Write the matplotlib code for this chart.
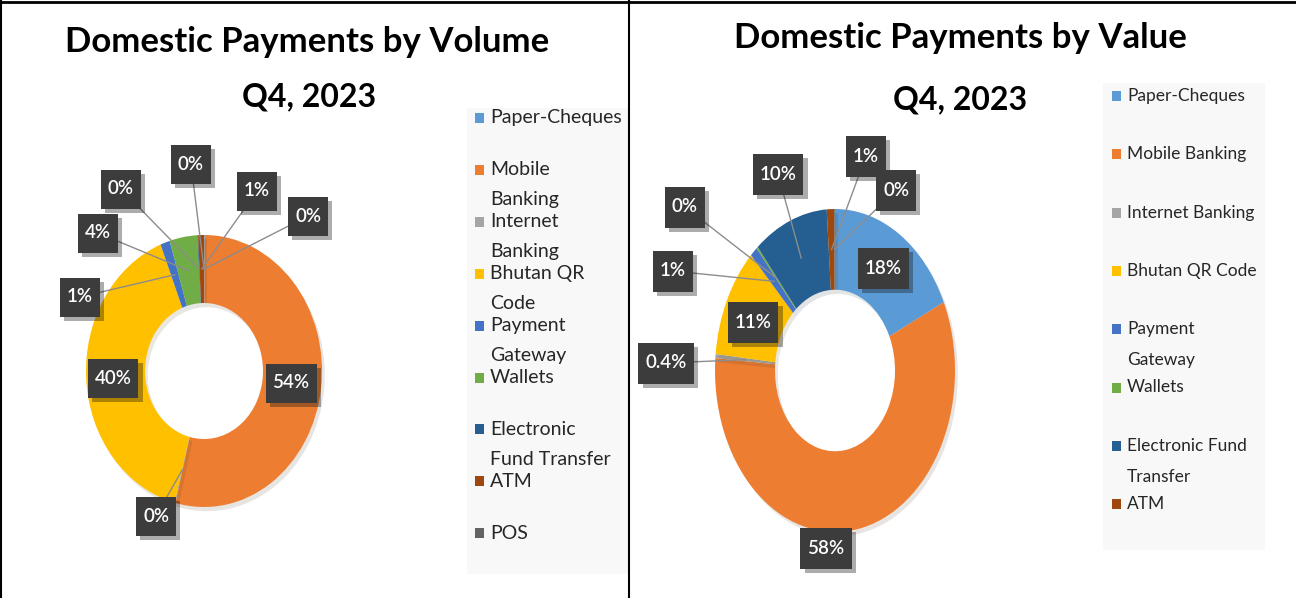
import matplotlib.pyplot as plt
import matplotlib.patheffects as pe
import numpy as np

plt.rcParams['font.family'] = ['Lato', 'DejaVu Sans']

## DATA

colors = ['#5B9BD5', '#ED7D31', '#A5A5A5', '#FFC000', '#4472C4',
          '#70AD47', '#255E91', '#9E480E', '#636363']

# volume share (%), clockwise from 12 o'clock
volume = [0.1, 53.8, 0.1, 40.0, 1.3, 3.8, 0.1, 0.8, 0.0]
volume_labels = ['0%', '54%', '0%', '40%', '1%', '4%', '0%', '1%', '0%']
volume_legend = ['Paper-Cheques', 'Mobile\nBanking', 'Internet\nBanking',
                 'Bhutan QR\nCode', 'Payment\nGateway', 'Wallets',
                 'Electronic\nFund Transfer', 'ATM', 'POS']

# value share (%)
value = [18, 58, 0.4, 11, 1, 0.2, 10, 1, 0.1]
value_labels = ['18%', '58%', '0.4%', '11%', '1%', '0%', '10%', '1%', '0%']
value_legend = ['Paper-Cheques', 'Mobile Banking', 'Internet Banking',
                'Bhutan QR Code', 'Payment\nGateway', 'Wallets',
                'Electronic Fund\nTransfer', 'ATM']

## LAYOUT (pixels)
W, H = 1296, 598
vol_box = (86, 235, 236, 272)     # left, top, width, height of donut
val_box = (715, 209, 240, 323)
vol_lbl_xy = [(308, 216), (291, 383), (156, 516), (113, 378), (80, 297),
              (98, 233), (121, 189), (257, 191), (191, 164)]
vol_leader = [True, False, True, False, True, True, True, True, True]
val_lbl_xy = [(883, 268), (826, 548), (666, 363), (753, 322), (673, 271),
              (685, 207), (778, 174), (866, 156), (896, 190)]
val_leader = [False, False, True, False, True, True, True, True, True]

fig = plt.figure(figsize=(W / 100, H / 100), dpi=100)
renderer = fig.canvas.get_renderer()
bg = fig.add_axes([0, 0, 1, 1])
bg.set_xlim(0, W)
bg.set_ylim(H, 0)
bg.axis('off')

fg = fig.add_axes([0, 0, 1, 1], zorder=5)
fg.set_xlim(0, W)
fg.set_ylim(H, 0)
fg.axis('off')
fg.patch.set_visible(False)

# frame lines
bg.plot([0, W], [2, 2], color='black', lw=2)
bg.plot([1, 1], [0, H], color='black', lw=1.5)
bg.plot([629, 629], [0, H], color='black', lw=1.5)


def donut(box, vals, labels, lbl_xy, leader, box_h):
    l, t, w, h = box
    ax = fig.add_axes([l / W, (H - t - h) / H, w / W, h / H], zorder=2)
    wedges, _ = ax.pie(vals, colors=colors, startangle=90, counterclock=False,
                       radius=1, wedgeprops=dict(width=0.5, linewidth=0))
    for wd in wedges:
        wd.set_path_effects([pe.SimplePatchShadow(offset=(2, -3), alpha=0.12),
                             pe.Normal()])
    ax.set_aspect('auto')
    ax.set_xlim(-1, 1)
    ax.set_ylim(-1, 1)
    to_px = ax.transData + fg.transData.inverted()
    for wd, lab, (x, y), ld in zip(wedges, labels, lbl_xy, leader):
        mid = np.deg2rad((wd.theta1 + wd.theta2) / 2)
        tx, ty = to_px.transform((0.75 * np.cos(mid), 0.75 * np.sin(mid)))
        if ld:
            fg.plot([x, tx], [y, ty], color='#8c8c8c', lw=1, zorder=1)
        txt = fg.text(x, y, lab, ha='center', va='center', color='white',
                      fontsize=13.5, fontweight='semibold', zorder=3)
        bw = txt.get_window_extent(renderer).width + 14
        rect = plt.Rectangle((x - bw / 2, y - box_h / 2), bw, box_h,
                             fc='#3c3c3c', ec='none', zorder=2)
        rect.set_path_effects([pe.SimplePatchShadow(offset=(3, -3), alpha=0.35),
                               pe.Normal()])
        fg.add_patch(rect)
    return ax


donut(vol_box, volume, volume_labels, vol_lbl_xy, vol_leader, 39)
donut(val_box, value, value_labels, val_lbl_xy, val_leader, 41)

# titles
bg.text(307, 42, 'Domestic Payments by Volume', ha='center', va='center',
        fontsize=25, fontweight='bold')
bg.text(309, 97, 'Q4, 2023', ha='center', va='center', fontsize=23, fontweight='bold')
bg.text(960, 38, 'Domestic Payments by Value', ha='center', va='center',
        fontsize=25, fontweight='bold')
bg.text(960, 100, 'Q4, 2023', ha='center', va='center', fontsize=23, fontweight='bold')


def legend(names, x0, y0, step, line_gap, box, fs):
    l, t, r, b = box
    bg.add_patch(plt.Rectangle((l, t), r - l, b - t, fc='#f8f8f8', ec='none'))
    for i, name in enumerate(names):
        y = y0 + i * step
        bg.add_patch(plt.Rectangle((x0, y - 5), 9, 10, fc=colors[i], ec='none'))
        for k, line in enumerate(name.split('\n')):
            bg.text(x0 + 15, y + k * line_gap, line, ha='left', va='center',
                    fontsize=fs, color='#262626')


legend(volume_legend, 475, 118, 51.9, 30, (467, 108, 628, 574), 14)
legend(value_legend, 1112, 96, 58.3, 31, (1103, 83, 1265, 550), 12.5)

fig.savefig('out.png', dpi=100)
